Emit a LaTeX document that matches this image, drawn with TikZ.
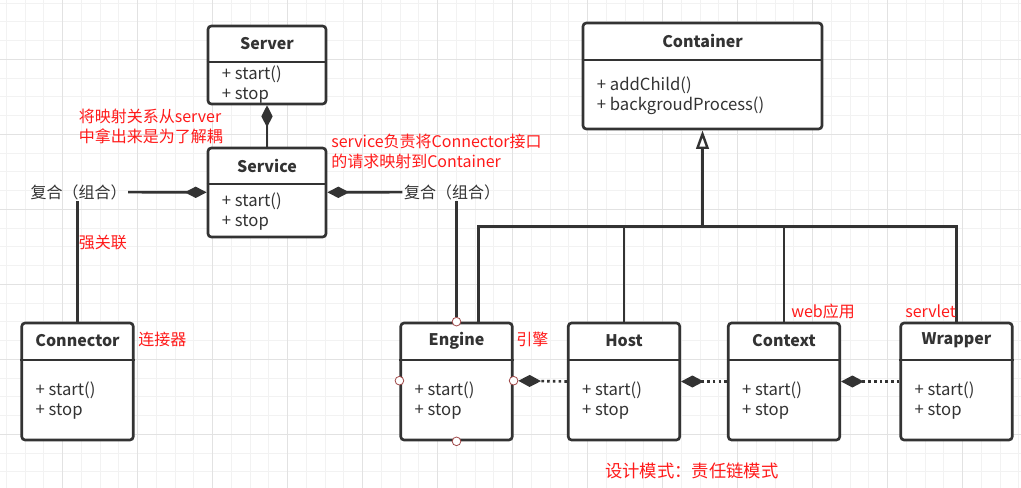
\documentclass[tikz,border=0pt]{standalone}
\usepackage{fontspec}
\setmainfont{Noto Sans CJK SC}
\usetikzlibrary{arrows.meta,positioning,calc}
\definecolor{Ink}{HTML}{333333}
\definecolor{Note}{HTML}{FF1A1A}
\definecolor{GridMinor}{HTML}{F2F2F2}
\definecolor{GridMajor}{HTML}{E2E2E2}
\definecolor{Port}{HTML}{A04848}

\begin{document}
\begin{tikzpicture}[x=0.75pt,y=-0.75pt,
  cls/.style={draw=Ink,fill=white,line width=2pt,rounded corners=2.5pt,inner sep=0pt},
  title/.style={inner sep=0pt,minimum height=28.1pt,font=\fontsize{12}{14}\selectfont\bfseries,text=Ink},
  ops/.style={inner sep=0pt,align=left,anchor=west,font=\fontsize{12.5}{15}\selectfont,text=Ink},
  sep/.style={draw=Ink,line width=1.6pt},
  note/.style={inner sep=0pt,align=left,anchor=west,font=\fontsize{12}{15}\selectfont,text=Note},
  rel/.style={inner sep=1pt,font=\fontsize{12}{15}\selectfont,text=Ink},
  comp/.style={draw=Ink,line width=2pt,-{Diamond[length=16.5pt,width=8.5pt,line width=0pt]}},
  link/.style={draw=Ink,line width=1.7pt},
  gen/.style={draw=Ink,line width=1.8pt,-{Triangle[open,length=14pt,width=9.5pt,fill=white]}},
  chain/.style={draw=Ink,line width=2pt,dash pattern=on 2pt off 2.3pt,-{Diamond[length=17pt,width=9pt,line width=0pt]}},
  port/.style={circle,draw=Port,fill=white,line width=0.6pt,minimum size=6.5pt,inner sep=0pt},
  gridminor/.style={draw=GridMinor,line width=0.75pt},
  gridmajor/.style={draw=GridMajor,line width=0.75pt}
]
\useasboundingbox (0,0) rectangle (1021,488);
\fill[white] (0,0) rectangle (1021,488);
% background grid
\foreach \i in {0,...,54} \draw[gridminor] ({6.45+18.75*\i},0) -- ++(0,488);
\foreach \j in {0,...,26} \draw[gridminor] (0,{3.05+18.75*\j}) -- ++(1021,0);
\foreach \i in {0,...,12} \draw[gridmajor] ({62.7+75*\i},0) -- ++(0,488);
\foreach \j in {0,...,5} \draw[gridmajor] (0,{59.3+75*\j}) -- ++(1021,0);

% classes
\node[cls,minimum width=88.5pt,minimum height=58.5pt] (server) at (267,65) {};
\node[title,below=0pt of server.north] (serverT) {Server};
\draw[sep] ($(server.north west)+(0,37.5)$) -- ($(server.north east)+(0,37.5)$);
\node[ops] (serverM) at ($(server.west)+(15,19.5)$) {+ start()\\+ stop};

\node[cls,minimum width=88.5pt,minimum height=66.75pt] (service) at (267,192.5) {};
\node[title,below=0pt of service.north] (serviceT) {Service};
\draw[sep] ($(service.north west)+(0,37.5)$) -- ($(service.north east)+(0,37.5)$);
\node[ops] (serviceM) at ($(service.west)+(15,19.5)$) {+ start()\\+ stop};

\node[cls,minimum width=179.25pt,minimum height=79.5pt] (container) at (702.5,76) {};
\node[title,below=0pt of container.north] (containerT) {Container};
\draw[sep] ($(container.north west)+(0,38)$) -- ($(container.north east)+(0,38)$);
\node[ops] (containerM) at ($(container.west)+(15,19.5)$) {+ addChild()\\+ backgroudProcess()};

\node[cls,minimum width=83.6pt,minimum height=87.75pt] (connector) at (77.5,381.5) {};
\node[title,below=0pt of connector.north] (connectorT) {Connector};
\draw[sep] ($(connector.north west)+(0,38)$) -- ($(connector.north east)+(0,38)$);
\node[ops] (connectorM) at ($(connector.west)+(15,19.5)$) {+ start()\\+ stop};

\node[cls,minimum width=83.6pt,minimum height=87.75pt] (engine) at (456.5,381.5) {};
\node[title,below=0pt of engine.north] (engineT) {Engine};
\draw[sep] ($(engine.north west)+(0,38)$) -- ($(engine.north east)+(0,38)$);
\node[ops] (engineM) at ($(engine.west)+(15,19.5)$) {+ start()\\+ stop};

\node[cls,minimum width=83.6pt,minimum height=87.75pt] (host) at (624,381.5) {};
\node[title,below=0pt of host.north] (hostT) {Host};
\draw[sep] ($(host.north west)+(0,38)$) -- ($(host.north east)+(0,38)$);
\node[ops] (hostM) at ($(host.west)+(15,19.5)$) {+ start()\\+ stop};

\node[cls,minimum width=83.6pt,minimum height=87.75pt] (context) at (784,381.5) {};
\node[title,below=0pt of context.north] (contextT) {Context};
\draw[sep] ($(context.north west)+(0,38)$) -- ($(context.north east)+(0,38)$);
\node[ops] (contextM) at ($(context.west)+(15,19.5)$) {+ start()\\+ stop};

\node[cls,minimum width=83.6pt,minimum height=87.75pt] (wrapper) at (956.5,381.5) {};
\node[title,below=0pt of wrapper.north] (wrapperT) {Wrapper};
\draw[sep] ($(wrapper.north west)+(0,38)$) -- ($(wrapper.north east)+(0,38)$);
\node[ops] (wrapperM) at ($(wrapper.west)+(15,19.5)$) {+ start()\\+ stop};

% relation labels
\node[rel] (compL) at (78.5,192) {复合（组合）};
\node[rel] (compR) at (452,192) {复合（组合）};

% connection points of Engine
\node[port] (engN) at (engine.north) {};
\node[port] (engS) at (engine.south) {};
\node[port] (engW) at ($(engine.west)+(0,-0.8)$) {};
\node[port] (engE) at ($(engine.east)+(0,-0.8)$) {};

% connectors
\draw[comp] (service) -- (server);
\draw[comp] (compL) -- (service);
\draw[comp] (compR) -- (service);
\draw[link] (compL.south -| connector.north) -- (connector.north);
\draw[link] (compR.south -| engN) -- (engN);
\coordinate (bus) at (702.5,226.5);
\draw[gen] (bus) -- (container);
\draw[link] ($(engine.north)+(22,0)$) |- (bus) -| (wrapper.north);
\draw[link] (host.north) -- (host.north |- bus);
\draw[link] (context.north) -- (context.north |- bus);
\draw[chain] (host.west) -- (engE);
\draw[chain] (context.west) -- (host.east);
\draw[chain] (wrapper.west) -- (context.east);

% notes
\node[note] (noteMap) at (78.6,126) {将映射关系从server\\中拿出来是为了解耦};
\node[note] (noteSvc) at (331,151.5) {service负责将Connector接口\\的请求映射到Container};
\node[note] (noteStrong) at (78.6,243) {强关联};
\node[note] (noteConn) at (138,339.5) {连接器};
\node[note] (noteEng) at (516,339.5) {引擎};
\node[note] (noteWeb) at (791,311.7) {web应用};
\node[note] (noteServlet) at (905,311.7) {servlet};
\node[note,anchor=center,font=\fontsize{13}{15}\selectfont] (notePattern) at (691.7,470.7) {设计模式：责任链模式};
\end{tikzpicture}
\end{document}
